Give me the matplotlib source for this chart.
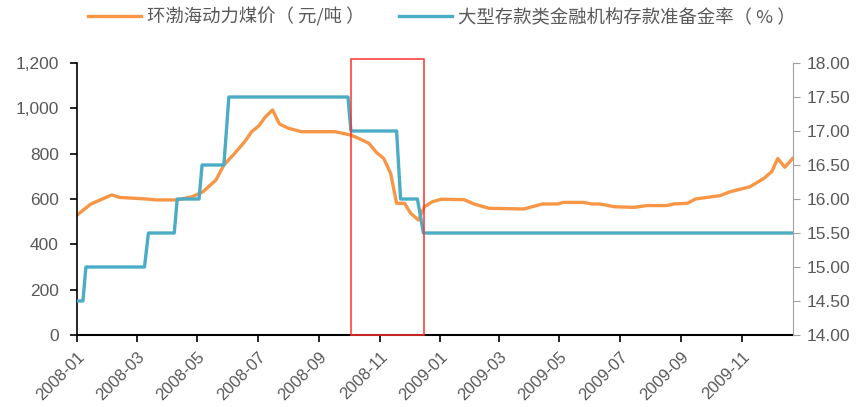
import matplotlib
matplotlib.use("Agg")
import matplotlib.pyplot as plt
import matplotlib.dates as mdates
from matplotlib.patches import Rectangle
from matplotlib.font_manager import FontProperties
import pandas as pd

plt.rcParams['font.family'] = ['Noto Sans CJK SC', 'DejaVu Sans']

# Bohai-Rim thermal coal price (yuan/ton)
coal_dates = ['2008-01-01', '2008-01-15', '2008-02-05', '2008-02-13', '2008-03-11', '2008-03-21',
              '2008-04-11', '2008-04-26', '2008-05-07', '2008-05-20', '2008-05-28', '2008-06-08',
              '2008-06-18', '2008-06-25', '2008-07-02', '2008-07-09', '2008-07-16', '2008-07-23',
              '2008-08-01', '2008-08-14', '2008-09-17', '2008-10-03', '2008-10-13', '2008-10-21',
              '2008-10-29', '2008-11-05', '2008-11-12', '2008-11-18', '2008-11-26', '2008-12-02',
              '2008-12-10', '2008-12-16', '2008-12-24', '2009-01-02', '2009-01-25', '2009-02-04',
              '2009-02-19', '2009-03-26', '2009-04-14', '2009-04-29', '2009-05-05', '2009-05-25',
              '2009-06-03', '2009-06-11', '2009-06-25', '2009-07-15', '2009-07-28', '2009-08-17',
              '2009-08-24', '2009-09-07', '2009-09-15', '2009-10-10', '2009-10-20', '2009-11-09',
              '2009-11-23', '2009-12-01', '2009-12-07', '2009-12-14', '2009-12-22']
coal_price = [529, 578, 618, 607, 600, 596,
              596, 610, 632, 684, 750, 802,
              853, 897, 922, 963, 993, 931,
              912, 897, 897, 882, 863, 846,
              804, 779, 713, 581, 581, 538,
              507, 566, 588, 599, 597, 578,
              559, 556, 578, 578, 585, 585,
              578, 578, 566, 563, 571, 571,
              578, 581, 600, 615, 632, 654,
              691, 721, 779, 740, 779]

# Reserve requirement ratio of large depository institutions (%)
rrr_dates = ['2008-01-01', '2008-01-07', '2008-01-10', '2008-03-09', '2008-03-13', '2008-04-08',
             '2008-04-11', '2008-05-03', '2008-05-06', '2008-05-28', '2008-06-02', '2008-09-30',
             '2008-10-03', '2008-11-18', '2008-11-22', '2008-12-09', '2008-12-15', '2009-12-22']
rrr = [14.5, 14.5, 15.0, 15.0, 15.5, 15.5,
       16.0, 16.0, 16.5, 16.5, 17.5, 17.5,
       17.0, 17.0, 16.0, 16.0, 15.5, 15.5]

highlight = ['2008-10-03', '2008-12-16']

tick_months = pd.date_range('2008-01-01', '2009-11-01', freq='2MS')

coal_x = pd.to_datetime(coal_dates)
rrr_x = pd.to_datetime(rrr_dates)

fig = plt.figure(figsize=(8.63, 4.07), dpi=100)
ax = fig.add_axes([0.0892, 0.1769, 0.8293, 0.6683])
ax2 = ax.twinx()

orange = '#F79646'
blue = '#4BACC6'
grey = '#595959'

l1, = ax.plot(coal_x, coal_price, color=orange, lw=2.4, label='环渤海动力煤价（ 元/吨 ）')
l2, = ax2.plot(rrr_x, rrr, color=blue, lw=2.4, label='大型存款类金融机构存款准备金率（ % ）')

ax.set_ylim(0, 1200)
ax.set_yticks(range(0, 1201, 200))
ax.set_yticklabels([f'{v:,}' for v in range(0, 1201, 200)])
ax2.set_ylim(14, 18)
ax2.set_yticks([14 + 0.5 * i for i in range(9)])
ax2.set_yticklabels([f'{14 + 0.5 * i:.2f}' for i in range(9)])

ax.set_xlim(pd.Timestamp('2008-01-01'), pd.Timestamp('2009-12-22'))
ax.set_xticks(tick_months)
ax.set_xticklabels([d.strftime('%Y-%m') for d in tick_months], rotation=45,
                   ha='right', rotation_mode='anchor')

for a in (ax, ax2):
    a.spines['top'].set_visible(False)
ax.spines['right'].set_visible(False)
ax.spines['left'].set_color('black')
ax.spines['bottom'].set_color('black')
ax.spines['bottom'].set_linewidth(1.5)
ax.spines['left'].set_linewidth(1.2)
ax2.spines['left'].set_visible(False)
ax2.spines['bottom'].set_visible(False)
ax2.spines['right'].set_color('#A0A0A0')

ax.tick_params(axis='y', colors='black', labelcolor=grey, labelsize=12.5, length=5, width=1.2, pad=8)
ax.tick_params(axis='x', colors='black', labelcolor=grey, labelsize=12, length=5, width=1.2, pad=5)
ax2.tick_params(axis='y', colors='#A0A0A0', labelcolor=grey, labelsize=12.5, length=5, pad=5)

for lbl in ax.get_yticklabels() + ax.get_xticklabels() + ax2.get_yticklabels():
    lbl.set_family(['Liberation Sans Narrow', 'Liberation Sans', 'DejaVu Sans'])

# red highlight box
hx0 = mdates.date2num(pd.Timestamp(highlight[0]))
hx1 = mdates.date2num(pd.Timestamp(highlight[1]))
rect = Rectangle((hx0, 14), hx1 - hx0, 4.06, fill=False, edgecolor='#FF3030',
                 lw=1.1, clip_on=False, zorder=10)
ax2.add_patch(rect)

leg_font = FontProperties(family=['Noto Sans CJK SC', 'DejaVu Sans'], size=13.2, weight='light')
fig.legend(handles=[l1, l2], loc='center', bbox_to_anchor=(0.512, 0.958), ncol=2,
           frameon=False, prop=leg_font, labelcolor=grey, handlelength=2.9,
           columnspacing=1.9, handletextpad=0.3, borderpad=0)

fig.savefig('out.png', dpi=100)
